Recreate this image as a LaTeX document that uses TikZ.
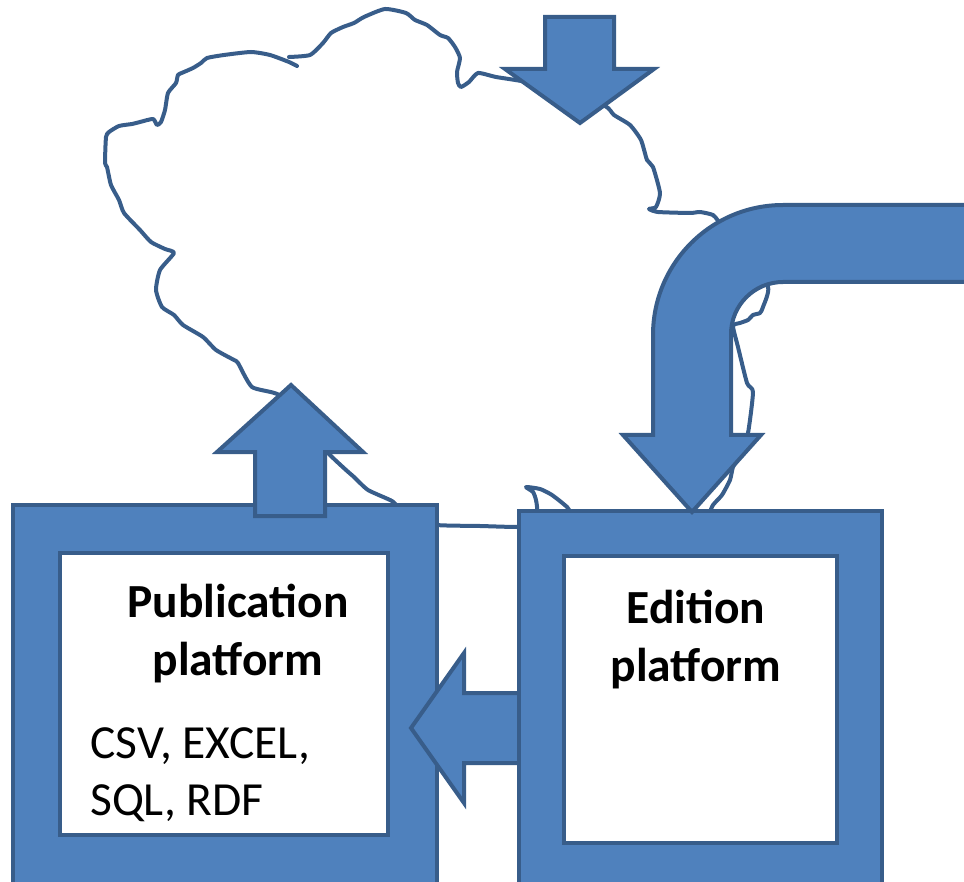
\documentclass[tikz,border=0pt]{standalone}
\usepackage{fontspec}
\setmainfont{Carlito}
\definecolor{shapefill}{HTML}{4F81BD}
\definecolor{shapeline}{HTML}{385D8A}

\begin{document}
\begin{tikzpicture}[x=1pt,y=-1pt,
  blueshape/.style={fill=shapefill,draw=shapeline,line width=4pt,line join=miter},
  framebox/.style={blueshape,anchor=north west,inner sep=0pt},
  panel/.style={fill=white,draw=shapeline,line width=4pt,anchor=north west,inner sep=0pt},
  outline/.style={draw=shapeline,line width=4pt,line join=round,line cap=round},
  title/.style={font=\fontsize{47.5}{58}\selectfont\bfseries,inner sep=0pt,anchor=base},
  body/.style={font=\fontsize{47.5}{57}\selectfont,inner sep=0pt,anchor=base west}]
\useasboundingbox (0,0) rectangle (964,882);
\clip (0,0) rectangle (964,882);

% hand-drawn cloud outline
\draw[outline] plot[smooth,tension=0.35] coordinates {
  (289,57) (310,55) (323,43) (331,33) (343,27) (354,23) (364,17) (385,9)
  (406,13) (415,20) (427,25) (440,35) (448,38) (455,47) (460,58) (457,72)
  (458,83) (461,87) (469,82) (478,73) (496,77) (526,82) (565,94) (605,106)
  (614,115) (630,125) (641,140) (647,160) (653,167) (660,193) (656,207)
  (649,209) (658,212) (690,213) (700,212) (713,215) (719,222) (745,255)
  (768,287) (763,307) (760,313) (753,315) (748,320) (740,323) (733,326)
  (738,347) (747,383) (753,392) (748,433) (740,455) (733,467) (730,480)
  (722,495) (713,505) (700,525) (640,528) (580,522) (567,507) (552,495)
  (540,489) (526,487) (533,492) (536,500) (537,512) (528,525) (517,527)
  (480,526) (437,525) (418,518) (400,509) (392,501) (368,490) (354,477)
  (346,470) (328,453) (303,424) (279,395) (252,387) (238,363) (234,360)
  (216,350) (203,337) (183,325) (174,315) (162,307) (156,290) (160,270)
  (174,253) (165,249) (151,242) (140,230) (124,213) (119,200) (111,185)
  (107,167) (105,163) (106,137) (109,132) (119,126) (132,124) (140,122)
  (153,119) (157,125) (161,122) (165,110) (168,93) (176,83) (178,75)
  (184,72) (193,68) (201,63) (207,58) (224,55) (251,52) (270,55) (289,62)
  (297,66)};

% publication platform
\node[framebox,minimum width=424pt,minimum height=400pt] (pubframe) at (11,503) {};
\node[panel,minimum width=328pt,minimum height=282pt] (pubpanel) at (58,551) {};
\node[title] (pubtitleA) at (238,617) {Publication};
\node[title] (pubtitleB) at (238,675) {platform};
\node[body] (formatsA) at (90,758) {CSV, EXCEL,};
\node[body] (formatsB) at (90,815) {SQL, RDF};

% upward arrow out of the publication platform
\draw[blueshape] (291,385) -- (363,452) -- (325,452) -- (325,516) -- (255,516)
  -- (255,452) -- (217,452) -- cycle;

% leftward arrow from edition to publication
\draw[blueshape] (411,728) -- (464,653) -- (464,693) -- (522,693) -- (522,763)
  -- (464,763) -- (464,803) -- cycle;

% edition platform
\node[framebox,minimum width=363pt,minimum height=400pt] (editframe) at (517,509) {};
\node[panel,minimum width=273pt,minimum height=287pt] (editpanel) at (562,554) {};
\node[title] (edittitleA) at (696,623) {Edition};
\node[title] (edittitleB) at (696,681) {platform};

% bent arrow entering from the right
\draw[blueshape] (975,205) -- (783,205) .. controls (711.2,205) and (653,263.2) .. (653,335)
  -- (653,435) -- (623,435) -- (692,512) -- (761,435) -- (731,435) -- (731,334)
  .. controls (731,305.3) and (754.3,282) .. (783,282) -- (975,282) -- cycle;

% downward arrow into the cloud
\draw[blueshape] (545,17) -- (614,17) -- (614,69) -- (654,69) -- (580,123)
  -- (505,69) -- (545,69) -- cycle;
\end{tikzpicture}
\end{document}
